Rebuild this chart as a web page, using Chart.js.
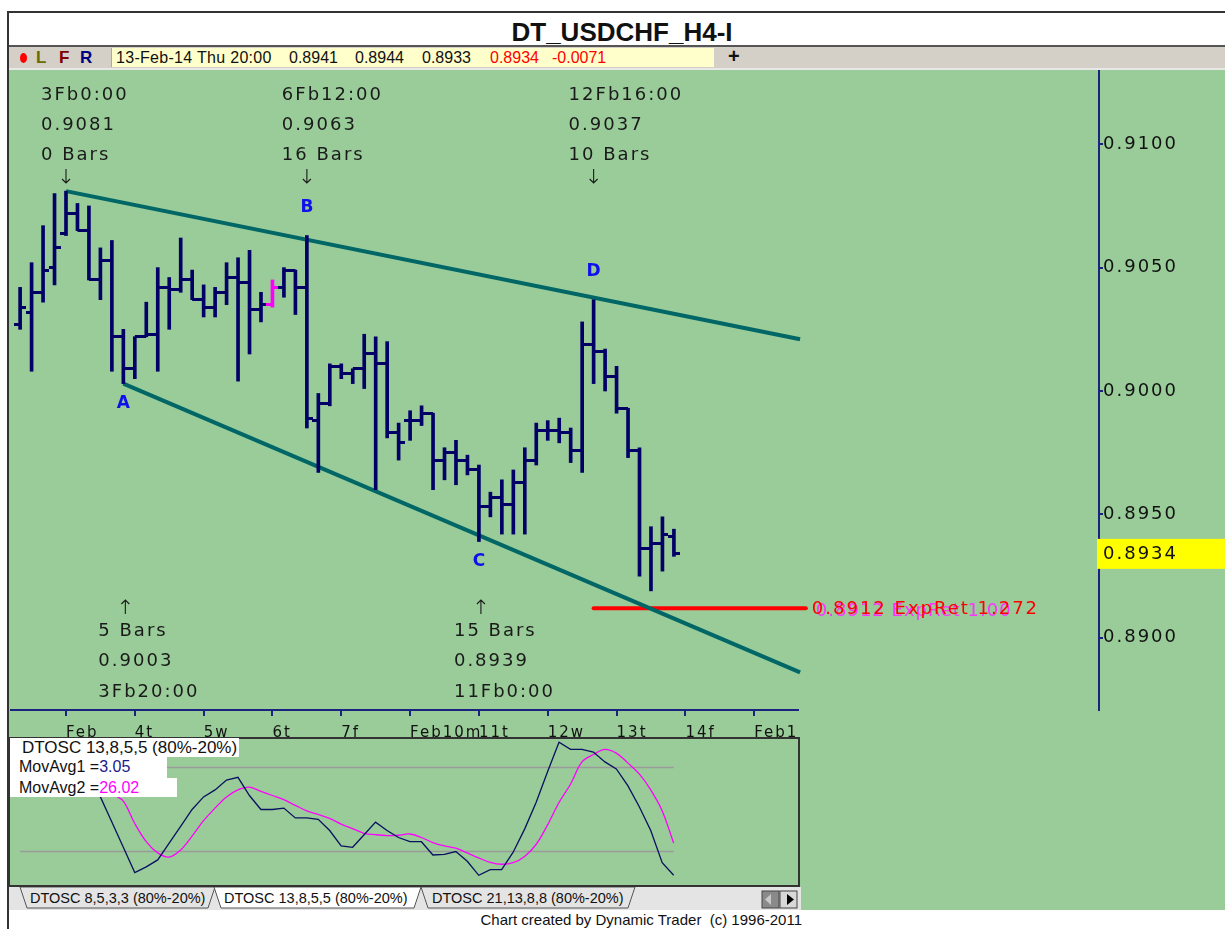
<!DOCTYPE html>
<html><head><meta charset="utf-8">
<script src="https://cdn.jsdelivr.net/npm/chart.js@4.4.1/dist/chart.umd.min.js"></script>
<style>
body{margin:0;width:1225px;height:929px;position:relative;overflow:hidden;background:#fff;font-family:"Liberation Sans",Arial,sans-serif;}
.abs{position:absolute;}
.osclab{position:absolute;background:#fff;font:16px "Liberation Sans",Arial,sans-serif;color:#111;white-space:nowrap;line-height:20px;}
.info{position:absolute;top:48px;font:16px "Liberation Sans",Arial,sans-serif;line-height:20px;white-space:nowrap;color:#111;}
</style></head><body>
<!-- frame -->
<div class="abs" style="left:7px;top:11px;width:2px;height:918px;background:#333"></div>
<div class="abs" style="left:9px;top:11px;width:1216px;height:2px;background:#333"></div>
<div class="abs" style="left:9px;top:13px;width:1226px;height:32px;text-align:center;font:bold 26px 'Liberation Sans',Arial,sans-serif;line-height:38px;color:#111">DT_USDCHF_H4-I</div>
<div class="abs" style="left:9px;top:45px;width:1216px;height:2px;background:#555"></div>
<div class="abs" style="left:9px;top:47px;width:1216px;height:21px;background:#d4d0c8"></div>
<div class="abs" style="left:9px;top:68px;width:1216px;height:2px;background:#e8e8e8"></div>
<div class="abs" style="left:9px;top:70px;width:1216px;height:840px;background:#99cc99"></div>
<!-- info bar -->
<div class="abs" style="left:20px;top:53px;width:7px;height:10px;border-radius:50%;background:#ff0000"></div>
<div class="info" style="left:36px;font-weight:bold;font-size:17px;color:#6b6b00">L</div>
<div class="info" style="left:59px;font-weight:bold;font-size:17px;color:#800000">F</div>
<div class="info" style="left:80px;font-weight:bold;font-size:17px;color:#000080">R</div>
<div class="abs" style="left:111px;top:48px;width:602px;height:19px;background:#ffffcc;border-left:1px solid #aaa"></div>
<div class="info" id="infoTime" style="left:116px;letter-spacing:0.3px"></div>
<div class="info" id="infoO" style="left:289px"></div>
<div class="info" id="infoH" style="left:355px"></div>
<div class="info" id="infoL" style="left:422px"></div>
<div class="info" id="infoC" style="left:490px;color:#ff0000"></div>
<div class="info" id="infoChg" style="left:552px;color:#ff0000"></div>
<div class="info" style="left:728px;font-weight:bold;font-size:20px;top:46px">+</div>

<canvas id="priceChart" width="1225" height="667" class="abs" style="left:0;top:70px"></canvas>
<canvas id="oscChart" width="810" height="160" class="abs" style="left:0;top:730px"></canvas>

<div class="osclab" style="left:10px;top:738px;width:217px;height:19px;padding-left:12px;font-size:17px">DTOSC 13,8,5,5 (80%-20%)</div>
<div class="osclab" style="left:10px;top:757px;width:148px;height:21px;padding-left:9px">MovAvg1 =<span id="ma1" style="color:#1a1a8c"></span></div>
<div class="osclab" style="left:10px;top:778px;width:158px;height:19px;padding-left:9px">MovAvg2 =<span id="ma2" style="color:#ff00ff"></span></div>

<svg class="abs" style="left:9px;top:887px" width="792" height="23">
  <rect x="0" y="0" width="792" height="23" fill="#e4e4e4"/>
  <polygon points="11,0 18,21 199,21 206,0" fill="#e4e4e4" stroke="#555" stroke-width="1"/>
  <polygon points="412,0 419,21 619,21 626,0" fill="#e4e4e4" stroke="#555" stroke-width="1"/>
  <polygon points="205,0 212,21 405,21 412,0" fill="#ffffff" stroke="#555" stroke-width="1"/>
  <text x="21" y="16" font-family="Liberation Sans, Arial, sans-serif" font-size="14.5" fill="#111">DTOSC 8,5,3,3 (80%-20%)</text>
  <text x="215" y="16" font-family="Liberation Sans, Arial, sans-serif" font-size="14.5" fill="#111">DTOSC 13,8,5,5 (80%-20%)</text>
  <text x="423" y="16" font-family="Liberation Sans, Arial, sans-serif" font-size="14.5" fill="#111">DTOSC 21,13,8,8 (80%-20%)</text>
  <rect x="753" y="4" width="17" height="17" fill="#8a8a8a" stroke="#444"/>
  <polygon points="756,12.5 762,7 762,18" fill="#c8c8c8"/>
  <rect x="771" y="4" width="17" height="17" fill="#d8d8d8" stroke="#444"/>
  <polygon points="785,12.5 778,7 778,18" fill="#000"/>
</svg>
<div class="abs" style="left:380px;top:910px;width:422px;text-align:right;font:15px 'Liberation Sans',Arial,sans-serif;line-height:19px;color:#111;white-space:pre">Chart created by Dynamic Trader  (c) 1996-2011</div>

<script>
// ---------- DATA ----------
const firstBarIndex = -4;            // bar index of first bar (Feb 3 00:00 = 0)
const barOpen  = [0.9027,0.9032,0.9040,0.9050,0.9064,0.9072,0.9065,0.9045,0.9053,0.9022,0.9009,0.9022,0.9023,0.9042,0.9041,0.9045,0.9037,0.9034,0.9040,0.9046,0.9044,0.9033,0.9035,0.9042,0.9049,0.9042,0.8988,0.8995,0.9010,0.9007,0.9009,0.9015,0.9011,0.8983,0.8988,0.8988,0.8991,0.8972,0.8975,0.8972,0.8968,0.8953,0.8957,0.8954,0.8963,0.8972,0.8984,0.8984,0.8983,0.8976,0.9019,0.9016,0.9006,0.8993,0.8976,0.8936,0.8938,0.8941];
const barHigh  = [0.9042,0.9052,0.9067,0.9080,0.9081,0.9076,0.9075,0.9058,0.9061,0.9025,0.9022,0.9036,0.9050,0.9046,0.9062,0.9049,0.9043,0.9042,0.9052,0.9054,0.9057,0.9040,0.9045,0.9050,0.9049,0.9063,0.8999,0.9011,0.9011,0.9009,0.9023,0.9022,0.9020,0.8987,0.8992,0.8994,0.8991,0.8977,0.8980,0.8974,0.8970,0.8959,0.8964,0.8968,0.8977,0.8987,0.8988,0.8989,0.8985,0.9028,0.9037,0.9017,0.9010,0.8993,0.8977,0.8945,0.8949,0.8944];
const barLow   = [0.9025,0.9008,0.9036,0.9043,0.9063,0.9065,0.9045,0.9037,0.9008,0.9003,0.9005,0.9022,0.9008,0.9025,0.9040,0.9037,0.9030,0.9030,0.9035,0.9004,0.9015,0.9028,0.9034,0.9038,0.9031,0.8985,0.8967,0.8994,0.9005,0.9003,0.9001,0.8960,0.8981,0.8972,0.8980,0.8986,0.8960,0.8964,0.8962,0.8966,0.8939,0.8949,0.8942,0.8942,0.8942,0.8970,0.8980,0.8979,0.8971,0.8967,0.9003,0.9000,0.8991,0.8973,0.8925,0.8919,0.8927,0.8933];
const barClose = [0.9034,0.9040,0.9049,0.9058,0.9072,0.9065,0.9045,0.9053,0.9022,0.9009,0.9022,0.9023,0.9042,0.9041,0.9045,0.9037,0.9034,0.9040,0.9046,0.9044,0.9033,0.9035,0.9042,0.9049,0.9042,0.8989,0.8995,0.9010,0.9007,0.9009,0.9015,0.9011,0.8983,0.8979,0.8988,0.8991,0.8972,0.8975,0.8972,0.8968,0.8953,0.8957,0.8954,0.8963,0.8972,0.8984,0.8984,0.8983,0.8976,0.9019,0.9016,0.9006,0.8993,0.8976,0.8936,0.8938,0.8942,0.8934];
const markedBarIndex = 18;
const lastBarTime = "13-Feb-14 Thu 20:00";
const lastChange = "-0.0071";

const timeTickIndex  = [0,6,12,18,24,30,36,42,48,54,60];
const timeTickLabels = ["Feb","4t","5w","6t","7f","Feb10m","11t","12w","13t","14f","Feb1"];
const priceTicks = [0.8900,0.8950,0.9000,0.9050,0.9100];

const upperTrendIdx = [0, 64],  upperTrendPrice = [0.9081, 0.9021];
const lowerTrendIdx = [5, 64],  lowerTrendPrice = [0.9003, 0.8886];
const expRetIdx = [46, 64.5];
const expRetPrice = 0.8912;
const expRetLabel = "ExpRet 1.272";
const expRetLabelAlt = "ExpRet 1.00";

const pivotIdx  = [0, 5, 21, 36, 46];
const pivotSide = ["high","low","high","low","high"];
const pivotTime = ["3Fb0:00","3Fb20:00","6Fb12:00","11Fb0:00","12Fb16:00"];
const waveLabels = ["A","B","C","D"];
const waveIdx    = [5, 21, 36, 46];

const dtoscStart = 2;
const dtosc   = [76,59,41,23,5,9,14,26,38,50,59,64,71,73,60,50,50,51,44,44,43,35,24,23,32,41,35,30,27,27,17.5,18,20,13,3,7,7,19.5,36,55,77,98,93,93,91,84,79,67,52,35,12,3.05];
const movAvg2Start = 3;
const movAvg2 = [78,62,56,40,27,19,16,21,31,42,51,59,64,66,63,60,57,53,49,46.5,43.7,39.6,36.4,33,32,31.4,31.6,32.5,30,26.4,24,22.4,19,15.4,12.3,10.9,12,16.5,25,39,55,68,84,89.3,93,90.3,83.3,75.4,64,49,26.02];
const oscLevels = [80, 20];
const oscLevelIdx = [-4, 53];

// ---------- LAYOUT CONSTANTS ----------
const X_MIN = -4.882, X_MAX = 90.06;     // price panel index range
const OSC_X_MAX = 63.93;                 // oscillator panel index range end
const Y_MIN = 0.887072, Y_MAX = 0.913009;
const OSC_MIN = -4.64, OSC_MAX = 101.07;
const NAVY = '#000066', TEAL = '#006666', AXIS = '#1a237e';
const COMIC = '"DejaVu Sans", sans-serif';

// ---------- derived ----------
const barIdx = barOpen.map((_, k) => firstBarIndex + k);
const k0 = i => i - firstBarIndex;
const last = barOpen.length - 1;

document.getElementById('infoTime').textContent = lastBarTime;
document.getElementById('infoO').textContent = barOpen[last].toFixed(4);
document.getElementById('infoH').textContent = barHigh[last].toFixed(4);
document.getElementById('infoL').textContent = barLow[last].toFixed(4);
document.getElementById('infoC').textContent = barClose[last].toFixed(4);
document.getElementById('infoChg').textContent = lastChange;
document.getElementById('ma1').textContent = dtosc[dtosc.length-1].toFixed(2);
document.getElementById('ma2').textContent = movAvg2[movAvg2.length-1].toFixed(2);

function tickImg(side, color) {
  const c = document.createElement('canvas');
  c.width = 12; c.height = 3;
  const g = c.getContext('2d');
  g.fillStyle = color;
  g.fillRect(side === 'left' ? 0 : 6, 0, 6, 3);
  return c;
}
const imgs = {
  openN: tickImg('left', NAVY), closeN: tickImg('right', NAVY),
  openP: tickImg('left', '#ff00ff'), closeP: tickImg('right', '#ff00ff')
};
const isMarked = c => c.raw && c.raw.x === markedBarIndex;

function drawArrow(ctx, x, y, down) {
  const d = down ? 1 : -1;
  ctx.beginPath();
  ctx.moveTo(x, y - 7 * d); ctx.lineTo(x, y + 7 * d);
  ctx.moveTo(x - 4, y + 3 * d); ctx.lineTo(x, y + 7 * d); ctx.lineTo(x + 4, y + 3 * d);
  ctx.stroke();
}

const annotPlugin = {
  id: 'annot',
  beforeDraw(chart) { chart.ctx.letterSpacing = '2px'; },
  afterDatasetsDraw(chart) {
    const { ctx, chartArea: ca, scales: { x: xs, y: ys } } = chart;
    ctx.save();
    ctx.letterSpacing = '2px';
    ctx.fillStyle = '#1a1a1a';
    ctx.strokeStyle = '#1a1a1a';
    ctx.lineWidth = 1.1;
    ctx.textBaseline = 'middle';
    ctx.font = '18px ' + COMIC;
    ctx.textAlign = 'left';
    pivotIdx.forEach((bi, k) => {
      const px = xs.getPixelForValue(bi);
      const price = pivotSide[k] === 'high' ? barHigh[k0(bi)] : barLow[k0(bi)];
      const bars = (k === 0 ? 0 : bi - pivotIdx[k - 1]) + ' Bars';
      if (pivotSide[k] === 'high') {
        ctx.fillText(pivotTime[k], px - 25, ca.top + 25);
        ctx.fillText(price.toFixed(4), px - 25, ca.top + 55);
        ctx.fillText(bars, px - 25, ca.top + 85);
        drawArrow(ctx, px, ca.top + 106, true);
      } else {
        drawArrow(ctx, px + 2, ca.top + 537, false);
        ctx.fillText(bars, px - 25, ca.top + 561);
        ctx.fillText(price.toFixed(4), px - 25, ca.top + 591);
        ctx.fillText(pivotTime[k], px - 25, ca.top + 622);
      }
    });
    // wave letters
    ctx.font = 'bold 17px ' + COMIC;
    ctx.fillStyle = '#1010ee';
    ctx.textAlign = 'center';
    ctx.letterSpacing = '0px';
    waveLabels.forEach((lab, k) => {
      const bi = waveIdx[k];
      const px = xs.getPixelForValue(bi);
      const side = pivotSide[pivotIdx.indexOf(bi)];
      const py = side === 'high' ? ys.getPixelForValue(barHigh[k0(bi)]) - 28 : ys.getPixelForValue(barLow[k0(bi)]) + 20;
      ctx.fillText(lab, px, py);
    });
    // ExpRet label
    ctx.textAlign = 'left';
    ctx.font = '18px ' + COMIC;
    const ex = xs.getPixelForValue(expRetIdx[1]) + 6, ey = ys.getPixelForValue(expRetPrice) + 1;
    ctx.letterSpacing = '1px';
    ctx.fillStyle = '#ff33ff';
    ctx.fillText(expRetPrice.toFixed(4) + ' ' + expRetLabelAlt, ex + 4, ey + 2);
    ctx.letterSpacing = '2px';
    ctx.fillStyle = '#ff0000';
    ctx.fillText(expRetPrice.toFixed(4) + ' ' + expRetLabel, ex, ey);
    ctx.restore();
  },
  afterDraw(chart) {
    const { ctx, chartArea: ca, scales: { y: ys } } = chart;
    ctx.save();
    // time axis line
    ctx.strokeStyle = AXIS; ctx.lineWidth = 2;
    ctx.beginPath(); ctx.moveTo(ca.left, ca.bottom); ctx.lineTo(799, ca.bottom); ctx.stroke();
    // last price box
    const py = ys.getPixelForValue(barClose[last]);
    ctx.fillStyle = '#ffff00';
    ctx.fillRect(ys.left - 2, py - 15, chart.width - ys.left + 2, 30);
    ctx.fillStyle = '#111';
    ctx.letterSpacing = '2px';
    ctx.font = '18px ' + COMIC;
    ctx.textBaseline = 'middle'; ctx.textAlign = 'left';
    ctx.fillText(barClose[last].toFixed(4), ys.left + 4, py);
    ctx.restore();
  }
};

new Chart(document.getElementById('priceChart'), {
  type: 'bar',
  data: {
    datasets: [
      { type: 'scatter', label: 'Open', order: 1,
        data: barIdx.map((i, k) => ({ x: i, y: barOpen[k] })),
        pointStyle: c => isMarked(c) ? imgs.openP : imgs.openN, pointRadius: 3 },
      { type: 'scatter', label: 'Close', order: 1,
        data: barIdx.map((i, k) => ({ x: i, y: barClose[k] })),
        pointStyle: c => isMarked(c) ? imgs.closeP : imgs.closeN, pointRadius: 3 },
      { type: 'bar', label: 'High-Low', order: 2,
        data: barIdx.map((i, k) => ({ x: i, y: [barLow[k], barHigh[k]] })),
        backgroundColor: c => isMarked(c) ? '#ff00ff' : NAVY,
        barThickness: 3, grouped: false, borderWidth: 0 },
      { type: 'line', label: 'Upper trend', order: 3,
        data: upperTrendIdx.map((i, k) => ({ x: i, y: upperTrendPrice[k] })),
        borderColor: TEAL, borderWidth: 4, pointRadius: 0, borderCapStyle: 'butt' },
      { type: 'line', label: 'Lower trend', order: 3,
        data: lowerTrendIdx.map((i, k) => ({ x: i, y: lowerTrendPrice[k] })),
        borderColor: TEAL, borderWidth: 4, pointRadius: 0, borderCapStyle: 'butt' },
      { type: 'line', label: 'ExpRet', order: 4,
        data: expRetIdx.map(i => ({ x: i, y: expRetPrice })),
        borderColor: '#ff0000', borderWidth: 4, pointRadius: 0, borderCapStyle: 'round', clip: false }
    ]
  },
  options: {
    responsive: false, animation: false, devicePixelRatio: 1, events: [],
    layout: { padding: { left: 10, top: 0, right: 0, bottom: 0 }, autoPadding: false },
    plugins: { legend: { display: false }, tooltip: { enabled: false } },
    scales: {
      x: {
        type: 'linear', min: X_MIN, max: X_MAX, offset: false, position: 'bottom',
        grid: { drawOnChartArea: false, drawTicks: true, tickLength: 6, color: AXIS, lineWidth: 2, offset: false },
        border: { display: false },
        afterBuildTicks: s => { s.ticks = timeTickIndex.map(v => ({ value: v })); },
        afterFit: s => { s.height = 27; s.paddingLeft = 0; s.paddingRight = 0; },
        ticks: { autoSkip: false, maxRotation: 0, align: 'start', padding: 8, color: '#111',
          font: { family: 'DejaVu Sans', size: 15 },
          callback: (v, i) => timeTickLabels[i] }
      },
      y: {
        type: 'linear', position: 'right', min: Y_MIN, max: Y_MAX,
        grid: { drawOnChartArea: false, drawTicks: true, tickLength: 4, color: AXIS, lineWidth: 2 },
        border: { display: true, color: AXIS, width: 2 },
        afterBuildTicks: s => { s.ticks = priceTicks.map(v => ({ value: v })); },
        afterFit: s => { s.width = 126; s.paddingTop = 0; s.paddingBottom = 0; },
        ticks: { padding: 0, color: '#111', font: { family: 'DejaVu Sans', size: 18 },
          callback: v => v.toFixed(4) }
      }
    }
  },
  plugins: [annotPlugin]
});

const oscFrame = {
  id: 'oscFrame',
  afterDraw(chart) {
    const { ctx, chartArea: ca } = chart;
    ctx.save();
    ctx.strokeStyle = '#333'; ctx.lineWidth = 2;
    ctx.strokeRect(ca.left - 1, ca.top, ca.right - ca.left + 1, ca.bottom - ca.top);
    ctx.restore();
  }
};

new Chart(document.getElementById('oscChart'), {
  type: 'line',
  data: {
    datasets: [
      { label: 'MovAvg1', order: 1, data: dtosc.map((v, k) => ({ x: dtoscStart + k, y: v })),
        borderColor: '#0a1060', borderWidth: 1.3, pointRadius: 0, tension: 0 },
      { label: 'MovAvg2', order: 2, data: movAvg2.map((v, k) => ({ x: movAvg2Start + k, y: v })),
        borderColor: '#ff00ff', borderWidth: 1.3, pointRadius: 0, tension: 0.35 },
      ...oscLevels.map(lv => ({ label: lv + '%', order: 3, data: oscLevelIdx.map(i => ({ x: i, y: lv })),
        borderColor: '#9a9a9a', borderWidth: 1.5, pointRadius: 0 }))
    ]
  },
  options: {
    responsive: false, animation: false, devicePixelRatio: 1, events: [],
    layout: { padding: { left: 10, right: 11, top: 8, bottom: 4 } },
    plugins: { legend: { display: false }, tooltip: { enabled: false } },
    scales: {
      x: { type: 'linear', display: false, min: X_MIN, max: OSC_X_MAX },
      y: { type: 'linear', display: false, min: OSC_MIN, max: OSC_MAX }
    }
  },
  plugins: [oscFrame]
});
</script>
</body></html>
